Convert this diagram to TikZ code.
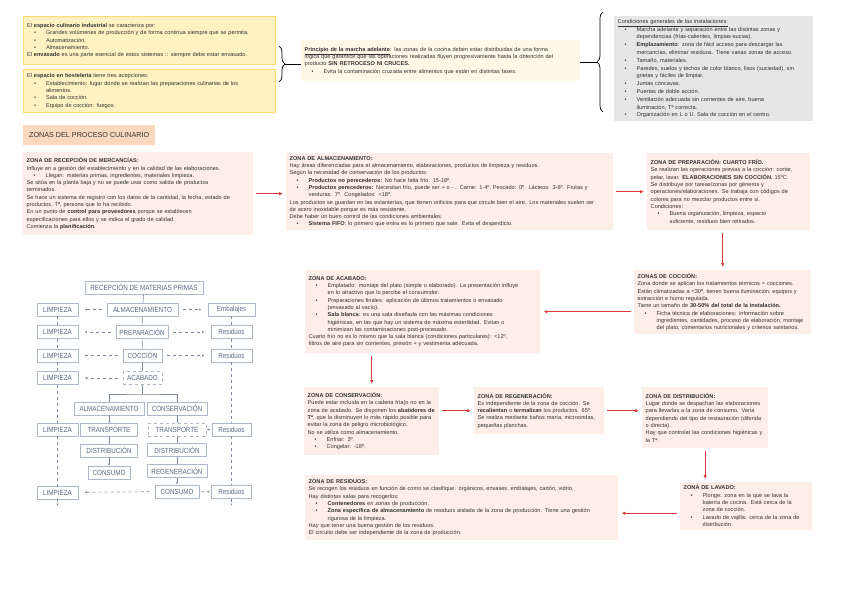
\documentclass[tikz,border=0pt]{standalone}
\usepackage{fontspec}
\setmainfont{Liberation Sans}
\newfontfamily\flowfont[FakeStretch=0.85]{Liberation Sans}
\usetikzlibrary{arrows.meta,positioning,calc,decorations.pathreplacing}

\definecolor{yellowfill}{HTML}{FFF2C2}
\definecolor{yellowline}{HTML}{FCDC6E}
\definecolor{creamfill}{HTML}{FFF8E8}
\definecolor{greyfill}{HTML}{E6E6E6}
\definecolor{headfill}{HTML}{FBD8BE}
\definecolor{zonefill}{HTML}{FDEFE7}
\definecolor{arrowred}{HTML}{E03C3C}
\definecolor{textgrey}{HTML}{333333}
\definecolor{flowline}{HTML}{AEB8CB}
\definecolor{flowtext}{HTML}{5B6985}

\newcommand{\zf}{\fontsize{5.6}{7.3}\selectfont\parindent=0pt\hyphenpenalty=10000\exhyphenpenalty=10000}
\newcommand{\gf}{\fontsize{5.6}{7.8}\selectfont\parindent=0pt\hyphenpenalty=10000\exhyphenpenalty=10000}
\newcommand{\itm}[1]{\par\hangindent=19pt\hangafter=1\hspace*{7pt}\makebox[12pt][l]{\textbullet}#1\par}

\begin{document}
\begin{tikzpicture}[x=1pt, y=-1pt,
  yellowbox/.style={fill=yellowfill, draw=yellowline, line width=1.2pt, anchor=north west, align=left, inner xsep=3.5pt, inner ysep=3pt, font=\zf, text=textgrey},
  creambox/.style={fill=creamfill, anchor=north west, align=left, inner xsep=3.5pt, inner ysep=3pt, font=\zf, text=textgrey},
  greybox/.style={fill=greyfill, anchor=north west, align=left, inner xsep=3.5pt, inner ysep=3pt, font=\gf, text=textgrey},
  zone/.style={fill=zonefill, anchor=north west, align=left, inner xsep=3.5pt, inner ysep=3pt, font=\zf, text=textgrey},
  headbox/.style={fill=headfill, anchor=north west, font=\fontsize{7.2}{8}\selectfont, text=textgrey},
  arr/.style={-{Latex[length=4pt,width=3.5pt]}, draw=arrowred, fill=arrowred, line width=0.8pt, shorten >=3pt, shorten <=3pt},
  flowbox/.style={draw=flowline, line width=0.9pt, fill=white, font=\flowfont\fontsize{7.4}{7.6}\selectfont, text=flowtext, inner sep=1.2pt, minimum height=13pt},
  flowlink/.style={draw=flowtext!80, line width=0.6pt},
  flowdash/.style={flowlink, dashed, -{Latex[length=2.5pt,width=2.2pt]}, shorten >=6pt, shorten <=5pt}
]
\useasboundingbox (0,0) rectangle (848,599);

% top: espacio culinario
\node[yellowbox, text width=245pt, minimum height=48pt] (indus) at (23,16) {El \textbf{espacio culinario industrial} se caracteriza por:
\itm{Grandes volúmenes de producción y de forma continua siempre que se permita.}
\itm{Automatización.}
\itm{Almacenamiento.}
El \textbf{envasado} es una parte esencial de estos sistemas :: siempre debe estar envasado.};

\node[yellowbox, text width=245pt, minimum height=43pt] (hostel) at (23,69) {El \textbf{espacio en hostelería} tiene tres acepciones:
\itm{Establecimiento: lugar donde se realizan las preparaciones culinarias de los\newline alimentos.}
\itm{Sala de cocción.}
\itm{Equipo de cocción: fuegos.}};

\node[creambox, text width=272pt, minimum height=41pt] (marcha) at (301,40) {\underline{\textbf{Principio de la marcha adelante}}: las zonas de la cocina deben estar distribuidas de una forma\\
lógica que garantice que las operaciones realizadas fluyen progresivamente hasta la obtención del\\
producto \textbf{SIN RETROCESO NI CRUCES.}
\itm{Evita la contaminación cruzada entre alimentos que están en distintas fases.}};

\node[greybox, text width=192pt, minimum height=105pt] (instal) at (614,16) {\underline{Condiciones generales de las instalaciones:}
\itm{Marcha adelante y separación entre las distintas zonas y\newline dependencias (frías-calientes, limpias-sucias).}
\itm{\textbf{Emplazamiento}: zona de fácil acceso para descargar las\newline mercancías, eliminar residuos. Tiene varias zonas de acceso.}
\itm{Tamaño, materiales.}
\itm{Paredes, suelos y techos de color blanco, lisos (suciedad), sin\newline grietas y fáciles de limpiar.}
\itm{Juntas cóncavas.}
\itm{Puertas de doble acción.}
\itm{Ventilación adecuada sin corrientes de aire, buena\newline iluminación, Tª correcta.}
\itm{Organización en L o U. Sala de cocción en el centro.}};

\draw[decorate, decoration={brace, amplitude=6pt}, line width=0.7pt] (279,46) -- (279,82);
\coordinate (lbtip) at (285,64);
\draw[line width=0.7pt] (lbtip) -- (lbtip -| marcha.west);
\draw[decorate, decoration={brace, amplitude=6pt}, line width=0.7pt] (603,112) -- (603,12);
\coordinate (rbtip) at (597,62);
\draw[line width=0.7pt] (rbtip -| marcha.east) -- (rbtip);

% zonas
\node[headbox, minimum width=132pt, minimum height=20pt] (zonas) at (23,125) {ZONAS DEL PROCESO CULINARIO};

\node[zone, text width=223pt, minimum height=83pt] (recep) at (23,152) {\textbf{ZONA DE RECEPCIÓN DE MERCANCÍAS:}\\
Influye en a gestión del establecimiento y en la calidad de las elaboraciones.
\itm{Llegan: materias primas, ingredientes, materiales limpieza.}
Se sitúa en la planta baja y no se puede usar como  salida de productos\\
terminados.\\
Se hace un sistema de registro con los datos de la cantidad, la fecha, estado de\\
productos, Tª, persona que lo ha recibido.\\
En un punto de \textbf{control para proveedores} porque se establecen\\
especificaciones para ellos y se indica el grado de calidad.\\
Comienza la \textbf{planificación}.};

\node[zone, text width=320pt, minimum height=77pt] (almac) at (286,153) {\textbf{ZONA DE ALMACENAMIENTO:}\\
Hay áreas diferenciadas para el almacenamiento, elaboraciones, productos de limpieza y residuos.\\
Según la necesidad de conservación de los productos:
\itm{\textbf{Productos no perecederos:} No hace falta frío. 15-18º.}
\itm{\textbf{Productos perecederos:} Necesitan frío, puede ser + o - . Carne: 1-4º, Pescado: 0º. Lácteos: 3-6º. Frutas y\newline verduras: 7º. Congelados: <18º.}
Los productos se guardan en las estanterías, que tienen orificios para que circule bien el aire. Los materiales suelen ser\\
de acero inoxidable porque es más resistente.\\
Debe haber un buen control de las condiciones ambientales.
\itm{\textbf{Sistema FIFO}: lo primero que entra es lo primero que sale. Evita el desperdicio.}};

\node[zone, text width=156pt, minimum height=77pt] (prep) at (647,153) {\textbf{ZONA DE PREPARACIÓN: CUARTO FRÍO.}\\
Se realizan las operaciones previas a la cocción: cortar,\\
pelar, lavar. \textbf{ELABORACIONES SIN COCCIÓN.} 15ºC.\\
Se distribuye por tareas/zonas por géneros y\\
operaciones/elaboraciones. Se trabaja con códigos de\\
colores para no mezclar productos entre sí.\\
Condiciones:
\itm{Buena organización, limpieza, espacio\newline suficiente, residuos bien retirados.}};

\node[zone, text width=170pt, minimum height=64pt] (cocc) at (634,270) {\textbf{ZONAS DE COCCIÓN:}\\
Zona donde se aplican los tratamientos térmicos = cocciones.\\
Están climatizadas a <30º, tienen buena iluminación, equipos y\\
extracción e humo regulada.\\
Tiene un tamaño de \textbf{30-50\% del total de la instalación.}
\itm{Ficha técnica de elaboraciones: información sobre\newline ingredientes, cantidades, proceso de elaboración, montaje\newline del plato, comentarios nutricionales y criterios sanitarios.}};

\node[zone, text width=228pt, minimum height=83pt] (acab) at (305,270) {\textbf{ZONA DE ACABADO:}
\itm{Emplatado: montaje del plato (simple o elaborado). La presentación influye\newline en lo atractivo que lo percibe el consumidor.}
\itm{Preparaciones finales: aplicación de últimos tratamientos o envasado\newline (envasado al vacío).}
\itm{\textbf{Sala blanca}: es una sala diseñada con las máximas condiciones\newline higiénicas, en las que hay un sistema de máxima esterilidad. Evitan o\newline minimizan las contaminaciones post-procesado.}
Cuarto frío no es lo mismo que la sala blanca (condiciones particulares): <12º,\\
filtros de aire para sin corrientes, presión + y vestimenta adecuada.};

\node[zone, text width=128pt, minimum height=68pt] (cons) at (304,387) {\textbf{ZONA DE CONSERVACIÓN:}\\
Puede estar incluida en la cadena fría(o no en la\\
zona de acabado. Se disponen los \textbf{abatidores de}\\
\textbf{Tª}, que la disminuyen lo más rápido posible para\\
evitar la zona de peligro microbiológico.\\
No se utiliza como almacenamiento.
\itm{Enfriar: 3º.}
\itm{Congelar: -18º.}};

\node[zone, text width=123pt, minimum height=47pt] (regen) at (474,387) {\textbf{ZONA DE REGENERACIÓN:}\\
Es independiente de la zona de cocción. Se\\
\textbf{recalientan} o \textbf{termalizan} los productos. 65º.\\
Se realiza mediante baños maría, microondas,\\
pequeñas planchas.};

\node[zone, text width=119pt, minimum height=61pt] (distr) at (642,387) {\textbf{ZONA DE DISTRIBUCIÓN:}\\
Lugar donde se despachan las elaboraciones\\
para llevarlas a la zona de consumo. Varía\\
dependiendo del tipo de restauración (diferida\\
o directa).\\
Hay que controlar las condiciones higiénicas y\\
la Tª.};

\node[zone, text width=306pt, minimum height=65pt] (resid) at (305,475) {\textbf{ZONA DE RESIDUOS:}\\
Se recogen los residuos en función de como se clasifique: orgánicos, envases, embalajes, cartón, vidrio.\\
Hay distintas salas para recogerlos:
\itm{\textbf{Contenedores} en zonas de producción.}
\itm{\textbf{Zona específica de almacenamiento} de residuos aislada de la zona de producción. Tiene una gestión\newline rigurosa de la limpieza.}
Hay que tener una buena gestión de los residuos.\\
El circuito debe ser independiente de la zona de producción.};

\node[zone, text width=125pt, minimum height=48pt] (lava) at (680,482) {\textbf{ZONA DE LAVADO:}
\itm{Plonge: zona en la que se lava la\newline batería de cocina. Está cerca de la\newline zona de cocción.}
\itm{Lavado de vajilla: cerca de la zona de\newline distribución}};

% flechas entre zonas
\draw[arr] (recep.east) -- (recep.east -| almac.west);
\draw[arr] (almac) -- (prep);
\draw[arr] (cocc.north |- prep.south) -- (cocc.north);
\draw[arr] (acab.east -| cocc.west) -- (acab.east);
\draw[arr] (cons.north |- acab.south) -- (cons.north);
\draw[arr] (regen.west -| cons.east) -- (regen.west);
\draw[arr] (regen.east) -- (regen.east -| distr.west);
\draw[arr] (distr.south) -- (distr.south |- lava.north);
\draw[arr] ([yshift=-7pt]lava.west) -- ([yshift=-7pt]lava.west -| resid.east);

% diagrama de flujo
\node[flowbox, minimum width=118pt] (fRec) at (144,287.5) {RECEPCIÓN DE MATERIAS PRIMAS};
\node[flowbox, minimum width=71pt] (fAlm) at (142.5,309.5) {ALMACENAMIENTO};
\node[flowbox, minimum width=41pt] (fLim1) at (57.5,309.5) {LIMPIEZA};
\node[flowbox, minimum width=47pt] (fEmb) at (231.5,309.5) {Embalajes};
\node[flowbox, minimum width=52pt] (fPrep) at (142,332) {PREPARACIÓN};
\node[flowbox, minimum width=41pt] (fLim2) at (57.5,332) {LIMPIEZA};
\node[flowbox, minimum width=41pt] (fRes1) at (231.5,332) {Residuos};
\node[flowbox, minimum width=39pt] (fCoc) at (142.5,355.5) {COCCIÓN};
\node[flowbox, minimum width=41pt] (fLim3) at (57.5,355.5) {LIMPIEZA};
\node[flowbox, minimum width=41pt] (fRes2) at (231.5,355.5) {Residuos};
\node[flowbox, dashed, minimum width=39pt] (fAca) at (142.5,378) {ACABADO};
\node[flowbox, minimum width=41pt] (fLim4) at (57.5,378) {LIMPIEZA};
\node[flowbox, minimum width=70pt] (fAlm2) at (109,408.5) {ALMACENAMIENTO};
\node[flowbox, minimum width=60pt] (fCons) at (177,408.5) {CONSERVACIÓN};
\node[flowbox, minimum width=41pt] (fLim5) at (57.5,429.5) {LIMPIEZA};
\node[flowbox, minimum width=57pt] (fTr1) at (109,429.5) {TRANSPORTE};
\node[flowbox, dashed, minimum width=58pt] (fTr2) at (177,429.5) {TRANSPORTE};
\node[flowbox, minimum width=39pt] (fRes3) at (231.5,429.5) {Residuos};
\node[flowbox, minimum width=57pt] (fDis1) at (109,450.5) {DISTRIBUCIÓN};
\node[flowbox, minimum width=59pt] (fDis2) at (177,450) {DISTRIBUCIÓN};
\node[flowbox, minimum width=42pt] (fCon1) at (109,473) {CONSUMO};
\node[flowbox, minimum width=60pt] (fReg) at (177,471) {REGENERACIÓN};
\node[flowbox, minimum width=41pt] (fLim6) at (57.5,492.5) {LIMPIEZA};
\node[flowbox, minimum width=44pt] (fCon2) at (177,491.5) {CONSUMO};
\node[flowbox, minimum width=40pt] (fRes4) at (231.5,492) {Residuos};
\coordinate (fSplit) at (142.5,394);
\coordinate (fEndL) at (57.5,506);
\coordinate (fEndR) at (231.5,506);

\draw[flowlink] (fRec) -- (fAlm);
\draw[flowlink] (fAlm) -- (fPrep);
\draw[flowlink] (fPrep) -- (fCoc);
\draw[flowlink] (fCoc) -- (fAca);
\draw[flowlink] (fAca) -- (fSplit);
\draw[flowlink] (fAlm2.north) |- (fSplit) -| (fCons.north);
\draw[flowlink] (fAlm2) -- (fTr1);
\draw[flowlink] (fTr1) -- (fDis1);
\draw[flowlink, -{Latex[length=2.5pt,width=2.2pt]}] (fDis1) -- (fCon1);
\draw[flowlink] (fCons) -- (fTr2);
\draw[flowlink] (fTr2) -- (fDis2);
\draw[flowlink] (fDis2) -- (fReg);
\draw[flowlink, -{Latex[length=2.5pt,width=2.2pt]}] (fReg) -- (fCon2);

\draw[flowdash] (fAlm) -- (fLim1);
\draw[flowdash] (fAlm) -- (fEmb);
\draw[flowdash] (fPrep) -- (fLim2);
\draw[flowdash] (fPrep) -- (fRes1);
\draw[flowdash] (fCoc) -- (fLim3);
\draw[flowdash] (fCoc) -- (fRes2);
\draw[flowdash] (fAca) -- (fLim4);
\draw[flowdash, shorten >=1pt, shorten <=1pt] (fTr2) -- (fRes3);
\draw[flowdash] (fCon2) -- (fLim6);
\draw[flowdash, shorten >=1pt, shorten <=2pt] (fCon2) -- (fRes4);

\draw[flowlink, dashed] (fLim1) -- (fLim2);
\draw[flowlink, dashed] (fLim2) -- (fLim3);
\draw[flowlink, dashed] (fLim3) -- (fLim4);
\draw[flowlink, dashed] (fLim4) -- (fLim5);
\draw[flowlink, dashed] (fLim5) -- (fLim6);
\draw[flowlink, dashed, -{Latex[length=2.5pt,width=2.2pt]}] (fLim6) -- (fEndL);
\draw[flowlink, dashed] (fEmb) -- (fRes1);
\draw[flowlink, dashed] (fRes1) -- (fRes2);
\draw[flowlink, dashed] (fRes2) -- (fRes3);
\draw[flowlink, dashed] (fRes3) -- (fRes4);
\draw[flowlink, dashed, -{Latex[length=2.5pt,width=2.2pt]}] (fRes4) -- (fEndR);

\end{tikzpicture}
\end{document}
